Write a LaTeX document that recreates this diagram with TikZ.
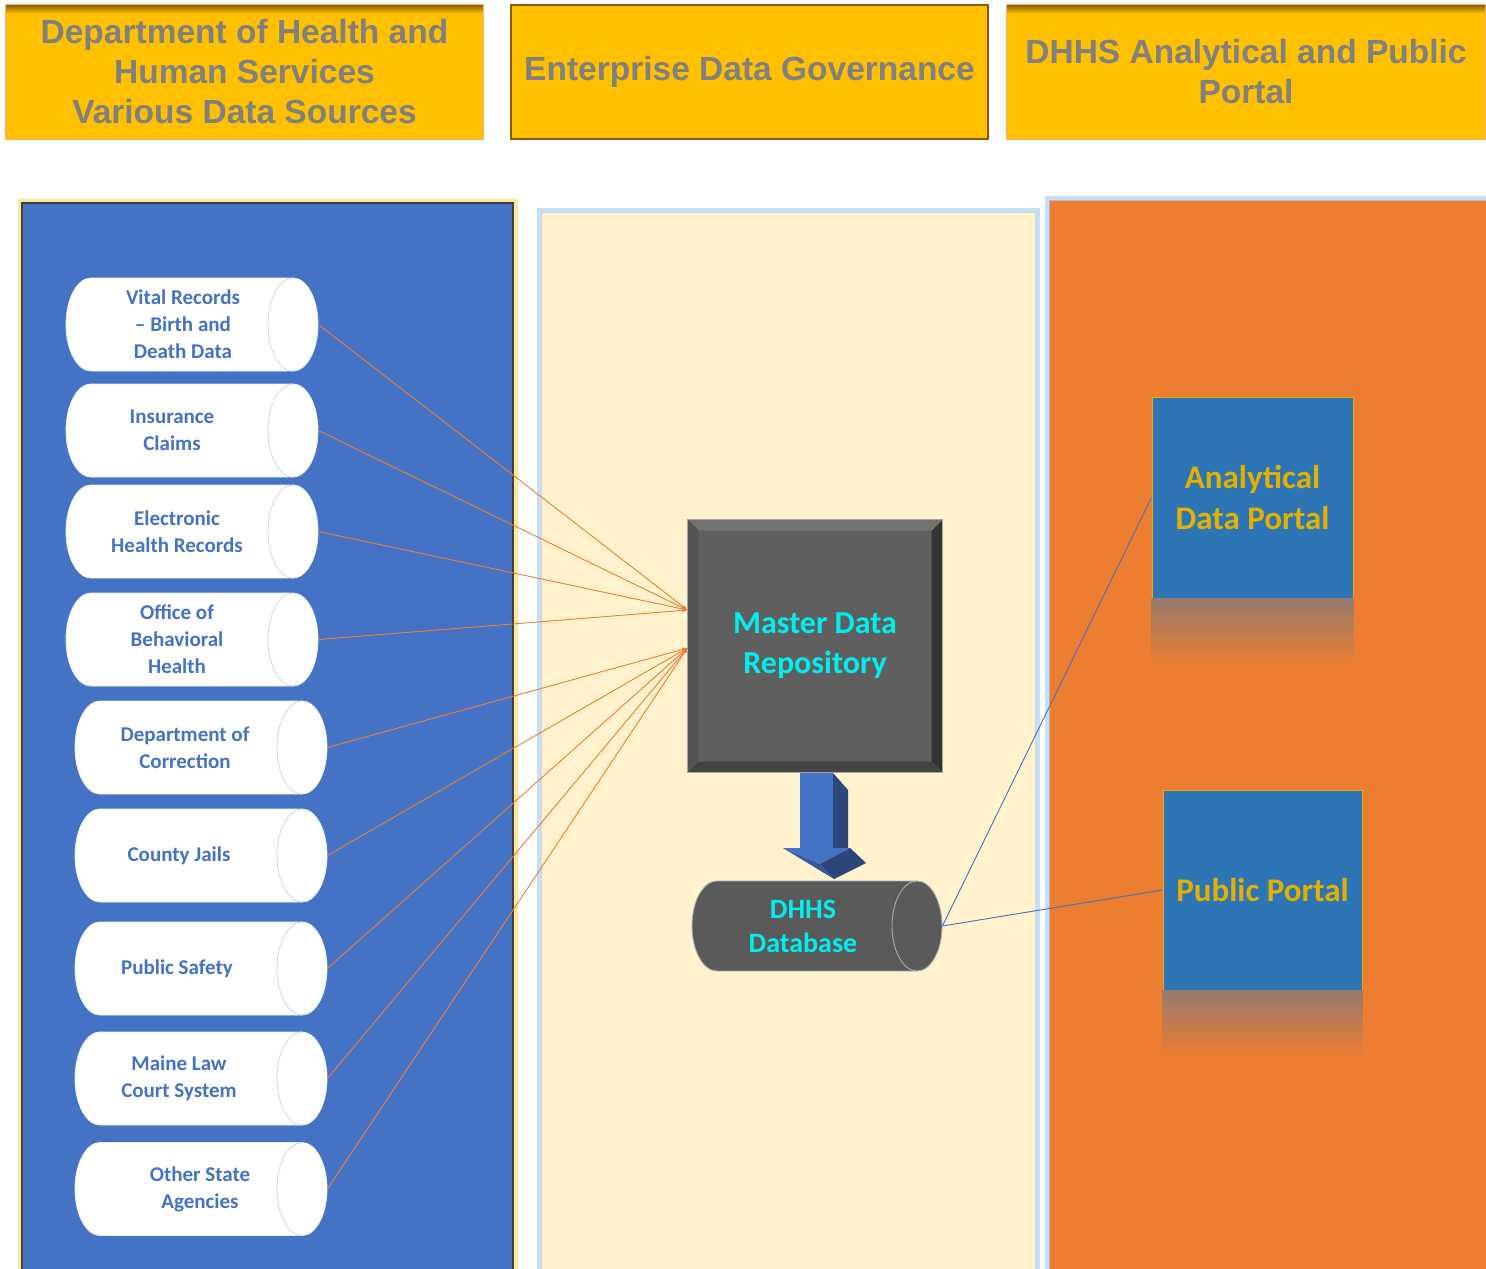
\documentclass[tikz,border=0pt]{standalone}
\usepackage{fontspec}
\setmainfont{Carlito}
\newfontfamily\hdrfont{Liberation Sans}
\usetikzlibrary{shapes.geometric,arrows.meta,positioning}

\definecolor{hdrgold}{RGB}{255,192,0}
\definecolor{hdrshadow}{RGB}{140,90,10}
\definecolor{hdrgray}{RGB}{128,128,128}
\definecolor{srcblue}{RGB}{68,114,196}
\definecolor{govcream}{RGB}{255,242,204}
\definecolor{portorange}{RGB}{237,125,49}
\definecolor{portblue}{RGB}{46,117,182}
\definecolor{portgold}{RGB}{228,176,0}
\definecolor{mdrgray}{RGB}{95,95,95}
\definecolor{mdrcyan}{RGB}{0,238,238}
\definecolor{glowyellow}{RGB}{255,230,153}
\definecolor{glowblue}{RGB}{200,222,242}
\definecolor{reflgray}{RGB}{150,122,110}
\definecolor{arrowdark}{RGB}{44,70,122}
\definecolor{capline}{RGB}{205,214,232}

\tikzset{every picture/.style={line width=0.75pt}}
\tikzset{
  hdrbox/.style={rectangle, fill=hdrgold, minimum width=477pt, minimum height=134pt, inner sep=0pt, align=center, text=hdrgray, font=\hdrfont\bfseries\fontsize{33.5}{40}\selectfont},
  srcbody/.style={fill=white, draw=white!90!srcblue, line width=0.8pt},
  srccap/.style={draw=capline, line width=0.8pt},
  srctext/.style={rectangle, minimum height=93pt, inner sep=0pt, text=srcblue, align=center, font=\bfseries\fontsize{21}{27}\selectfont},
  srclink/.style={draw=portorange, line width=0.9pt, -{Latex[length=5pt,width=4pt]}},
  portlink/.style={draw=srcblue, line width=0.9pt},
  portbox/.style={rectangle, fill=portblue, draw=portgold, line width=1pt, inner sep=0pt, align=center, text=portgold, font=\bfseries\fontsize{33}{41}\selectfont},
}

% name, centre x, centre y, text offset, text
\newcommand{\srccyl}[5]{%
  \begin{scope}[shift={(#2,#3)}]
    \draw[srcbody] (-101,-46.5) -- (101,-46.5) arc[start angle=-90,end angle=90,x radius=25,y radius=46.5] -- (-101,46.5) arc[start angle=90,end angle=270,x radius=25,y radius=46.5] -- cycle;
    \draw[srccap] (101,-46.5) arc[start angle=-90,end angle=-270,x radius=25,y radius=46.5];
  \end{scope}
  \node[srctext, minimum width={252-2*(#4)}] (#1) at ({#2+#4},#3) {#5};}

\begin{document}
\begin{tikzpicture}[x=1pt,y=1pt,yscale=-1,xscale=1]
\useasboundingbox (0,0) rectangle (1486,1269);
\clip (0,0) rectangle (1486,1269);

%Header Boxes
\node[hdrbox] (hdrsrc) at (244.5,72) {Department of Health and\\Human Services\\ Various Data Sources};
\node[hdrbox, draw=hdrshadow, line width=2.5pt] (hdrgov) at (749.5,72) {Enterprise Data Governance};
\node[hdrbox, minimum width=478pt] (hdrport) at (1246,72) {DHHS Analytical and Public\\Portal};
\shade[top color=hdrshadow, bottom color=hdrgold] (hdrsrc.north west) rectangle ([yshift=9pt]hdrsrc.north east);
\shade[top color=hdrshadow, bottom color=hdrgold] (hdrport.north west) rectangle ([yshift=9pt]hdrport.north east);
\draw[draw=portorange!60, line width=1pt] (hdrsrc.north west) rectangle (hdrsrc.south east);
\draw[draw=portorange!60, line width=1pt] (hdrport.north west) rectangle (hdrport.south east);

%Panels
\draw[draw=glowyellow, line width=9pt] (22,203) rectangle (513,1290);
\draw[fill=srcblue, draw=black!75, line width=1.5pt] (22,203) rectangle (513,1290);
\draw[draw=glowblue, line width=9pt] (541,212) rectangle (1035,1290);
\draw[fill=govcream, draw=glowblue!70!black!40, line width=1pt] (541,212) rectangle (1035,1290);
\draw[draw=glowblue, line width=9pt] (1049,200) rectangle (1495,1290);
\draw[fill=portorange, draw=glowblue!60!gray, line width=1pt] (1049,200) rectangle (1495,1290);

%Data Sources
\srccyl{vital}{192}{324.5}{-9}{Vital Records\\– Birth and\\Death Data}
\srccyl{claims}{192}{430.5}{-20}{Insurance\\Claims}
\srccyl{ehr}{192}{531.5}{-15}{Electronic\\Health Records}
\srccyl{obh}{192}{639.5}{-15}{Office of\\Behavioral\\Health}
\srccyl{doc}{201}{747.5}{-16}{Department of\\Correction}
\srccyl{jails}{201}{855.5}{-22}{County Jails}
\srccyl{safety}{201}{968.5}{-24}{Public Safety}
\srccyl{court}{201}{1078.5}{-22}{Maine Law\\Court System}
\srccyl{agencies}{201}{1189}{-1}{Other State\\Agencies}

%Master Data Repository
\node[rectangle, fill=mdrgray, draw=gray!70, line width=1pt, minimum width=254pt, minimum height=252pt, inner sep=0pt, align=center, text=mdrcyan, font=\bfseries\fontsize{32}{40}\selectfont] (mdr) at (815,646) {Master Data\\Repository};
\fill[black!45!mdrgray] (mdr.north east) -- (mdr.south east) -- ([shift={(-11,-11)}]mdr.south east) -- ([shift={(-11,11)}]mdr.north east) -- cycle;
\fill[black!30!mdrgray] (mdr.south west) -- (mdr.south east) -- ([shift={(-11,-11)}]mdr.south east) -- ([shift={(11,-11)}]mdr.south west) -- cycle;
\fill[white!12!mdrgray] (mdr.north west) -- (mdr.north east) -- ([shift={(-11,11)}]mdr.north east) -- ([shift={(11,11)}]mdr.north west) -- cycle;
\fill[black!12!mdrgray] (mdr.north west) -- (mdr.south west) -- ([shift={(11,-11)}]mdr.south west) -- ([shift={(11,11)}]mdr.north west) -- cycle;
\draw[draw=gray!70, line width=1pt] (mdr.north west) rectangle (mdr.south east);

\coordinate (in1) at ([yshift=-36pt]mdr.west);
\coordinate (in2) at ([yshift=2pt]mdr.west);

%Straight Lines
\draw[srclink] (vital.east) -- (in1);
\draw[srclink] (claims.east) -- (in1);
\draw[srclink] (ehr.east) -- (in1);
\draw[srclink] (obh.east) -- (in1);
\draw[srclink] (doc.east) -- (in2);
\draw[srclink] (jails.east) -- (in2);
\draw[srclink] (safety.east) -- (in2);
\draw[srclink] (court.east) -- (in2);
\draw[srclink] (agencies.east) -- (in2);

%Block Arrow
\fill[arrowdark] (833,773) -- (848,790) -- (848,848) -- (833,848) -- cycle;
\fill[srcblue] (800,773) -- (833,773) -- (833,848) -- (800,848) -- cycle;
\fill[srcblue] (783,848) -- (850,848) -- (820,864) -- cycle;
\fill[srcblue!80!black] (783,848) -- (820,864) -- (834,879) -- cycle;
\fill[arrowdark] (820,864) -- (850,848) -- (866,863) -- (834,879) -- cycle;

%DHHS Database
\begin{scope}[shift={(817,926)}]
  \draw[fill=mdrgray!95!black, draw=capline!80!black, line width=0.9pt] (-100,-45) -- (100,-45) arc[start angle=-90,end angle=90,x radius=25,y radius=45] -- (-100,45) arc[start angle=90,end angle=270,x radius=25,y radius=45] -- cycle;
  \draw[draw=capline!80!black, line width=0.9pt] (100,-45) arc[start angle=-90,end angle=-270,x radius=25,y radius=45];
\end{scope}
\node[rectangle, minimum width=278pt, minimum height=90pt, inner sep=0pt, align=center, text=mdrcyan, font=\bfseries\fontsize{28}{34}\selectfont] (dhhsdb) at (803,926) {DHHS\\Database};

%Portals
\node[portbox, minimum width=201pt, minimum height=201pt] (adp) at (1252.5,497.5) {Analytical\\Data Portal};
\node[portbox, minimum width=199pt, minimum height=200pt] (pubp) at (1262.5,890) {Public Portal};
\shade[top color=reflgray, bottom color=portorange] (adp.south west) rectangle ([yshift=67pt]adp.south east);
\shade[top color=reflgray, bottom color=portorange] (pubp.south west) rectangle ([yshift=66pt]pubp.south east);

\draw[portlink] (dhhsdb.east) -- (adp.west);
\draw[portlink] (dhhsdb.east) -- (pubp.west);

\end{tikzpicture}
\end{document}
